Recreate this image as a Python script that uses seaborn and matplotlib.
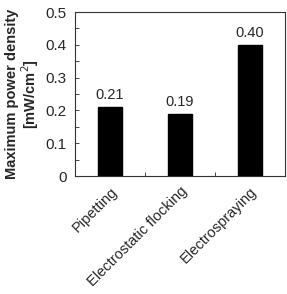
import matplotlib
matplotlib.use("Agg")
import matplotlib.pyplot as plt
import numpy as np
import pandas as pd
import seaborn as sns
from matplotlib.ticker import MultipleLocator, FixedLocator

methods = ["Pipetting", "Electrostatic flocking", "Electrospraying"]
power_density = [0.21, 0.19, 0.40]
value_labels = ["0.21", "0.19", "0.40"]
y_ticks = [0, 0.1, 0.2, 0.3, 0.4, 0.5]
y_tick_labels = ["0", "0.1", "0.2", "0.3", "0.4", "0.5"]

df = pd.DataFrame({"method": methods, "power": power_density})

sns.set_style("ticks")
plt.rcParams["font.family"] = ["Liberation Sans", "DejaVu Sans"]

fig = plt.figure(figsize=(2.87, 2.94), dpi=100)
ax = fig.add_axes([75 / 287, 1 - 176 / 294, 210 / 287, 164 / 294])
sns.barplot(data=df, x="method", y="power", color="black", width=0.33,
            edgecolor="black", ax=ax)

for i, (v, lab) in enumerate(zip(power_density, value_labels)):
    ax.text(i, v + 0.015, lab, ha="center", va="bottom", fontsize=10.5)

ax.set_ylim(0, 0.5)
ax.set_xlim(-0.5, 2.5)
ax.set_yticks(y_ticks)
ax.set_yticklabels(y_tick_labels, fontsize=11)
ax.yaxis.set_minor_locator(MultipleLocator(0.05))
ax.tick_params(axis="y", which="both", direction="in", length=3, width=0.6, pad=6)
ax.set_xticks([0, 1, 2])
ax.set_xticklabels(methods, rotation=45, ha="right", rotation_mode="anchor", fontsize=10.5)
ax.tick_params(axis="x", which="major", length=0, pad=6)
ax.xaxis.set_minor_locator(FixedLocator([0.5, 1.5]))
ax.tick_params(axis="x", which="minor", direction="in", length=3, width=0.6)
ax.set_xlabel("")
ax.set_ylabel("Maximum power density\n[mW/cm$^2$]", fontsize=10.5, fontweight="bold",
              linespacing=1.05, labelpad=3)
for s in ax.spines.values():
    s.set_visible(True)
    s.set_linewidth(0.8)
    s.set_color("#333333")

fig.savefig("out.png", dpi=100)
